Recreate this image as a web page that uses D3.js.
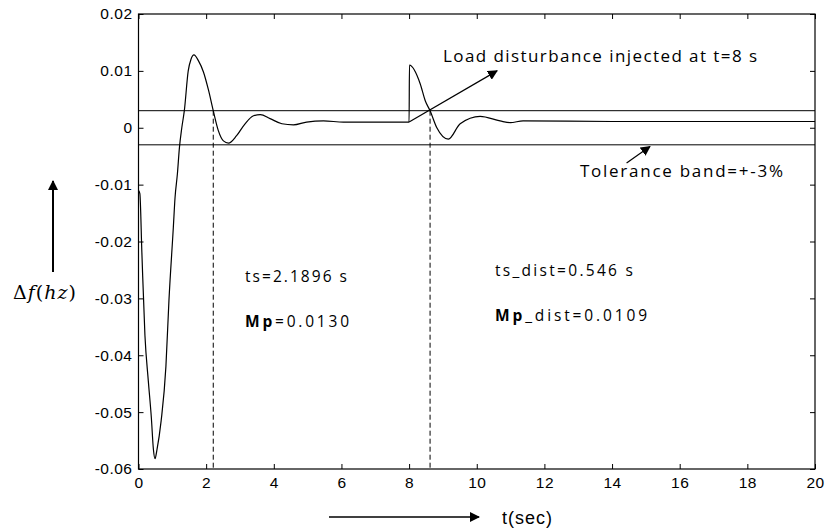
<!DOCTYPE html>
<html>
<head>
<meta charset="utf-8">
<script src="https://cdn.jsdelivr.net/npm/d3@7"></script>
<style>
  body { margin: 0; background: #fff; }
  svg { display: block; }
  .tick text { font-family: "Liberation Sans", Arial, sans-serif; font-size: 15.5px; letter-spacing: 0.5px; fill: #000; }
  .note { font-family: "Open Sans", "Noto Sans", sans-serif; font-size: 17px; fill: #000; }
  .small { font-size: 15.5px; }
</style>
</head>
<body>
<script>
// frequency deviation response (t in sec, df in Hz)
var timeSec = [0, 0.04, 0.1, 0.19, 0.29, 0.38, 0.44, 0.49, 0.54, 0.67, 0.81, 0.9, 1.03, 1.08, 1.15,
    1.21, 1.28, 1.355, 1.47, 1.55, 1.64, 1.77, 1.92, 2.07, 2.21, 2.36, 2.51, 2.66, 2.9, 3.15, 3.4, 3.6,
    3.89, 4.24, 4.58, 4.97, 5.47, 6.06, 7.0, 8.0, 8.01, 8.33, 8.48, 8.62, 8.82, 9.16, 9.51, 10.1, 10.69,
    10.99, 11.37, 14, 20];
var deltaF = [-0.011, -0.0116, -0.022, -0.0365, -0.0445, -0.051, -0.0565, -0.0582, -0.0568, -0.0515, -0.042,
    -0.0304, -0.0175, -0.0123, -0.0081, -0.0035, 0, 0.003, 0.01, 0.012, 0.0128, 0.0118, 0.0098, 0.0066,
    0.003, -0.0005, -0.0023, -0.0027, -0.0014, 0.0007, 0.0021, 0.0023, 0.0016, 0.0007, 0.0005, 0.001,
    0.0012, 0.001, 0.001, 0.001, 0.011, 0.0077, 0.0047, 0.003, 0, -0.002, 0.0007, 0.002, 0.0012,
    0.0009, 0.0012, 0.0011, 0.0011];

var tolerance = [0.003, -0.003];
var settleTimes = [2.21, 8.62];
var xTicks = [0, 2, 4, 6, 8, 10, 12, 14, 16, 18, 20];
var yTicks = [0.02, 0.01, 0, -0.01, -0.02, -0.03, -0.04, -0.05, -0.06];

var width = 827, height = 529;
var plotL = 138.5, plotR = 815, plotT = 14, plotB = 469;

var svg = d3.select("body").append("svg")
    .attr("width", width)
    .attr("height", height);

var defs = svg.append("defs");
defs.append("marker")
    .attr("id", "head")
    .attr("viewBox", "0 0 10 10")
    .attr("refX", 9).attr("refY", 5)
    .attr("markerWidth", 10).attr("markerHeight", 10)
    .attr("markerUnits", "userSpaceOnUse")
    .attr("orient", "auto")
    .append("path")
    .attr("d", "M0,0 L10,5 L0,10 z")
    .attr("fill", "#000");

var x = d3.scaleLinear().domain([0, 20]).range([plotL, plotR]);
var y = d3.scaleLinear().domain([-0.06, 0.02]).range([plotB, plotT]);

var fmtY = function(d){ return d === 0 ? "0" : d3.format(".2f")(d).replace("−", "-"); };

// axes, ticks pointing inward on all four sides
svg.append("g")
    .attr("transform", "translate(0," + plotB + ")")
    .call(d3.axisBottom(x).tickValues(xTicks).tickSizeInner(-5).tickSizeOuter(0).tickPadding(8))
    .call(function(g){ g.select(".domain").remove(); });

svg.append("g")
    .attr("transform", "translate(" + plotL + ",0)")
    .call(d3.axisLeft(y).tickValues(yTicks).tickFormat(fmtY).tickSizeInner(-5).tickSizeOuter(0).tickPadding(6))
    .call(function(g){ g.select(".domain").remove(); });

svg.append("g")
    .attr("transform", "translate(0," + plotT + ")")
    .call(d3.axisTop(x).tickValues(xTicks).tickFormat("").tickSizeInner(-5).tickSizeOuter(0))
    .call(function(g){ g.select(".domain").remove(); });

svg.append("g")
    .attr("transform", "translate(" + plotR + ",0)")
    .call(d3.axisRight(y).tickValues(yTicks).tickFormat("").tickSizeInner(-5).tickSizeOuter(0))
    .call(function(g){ g.select(".domain").remove(); });

svg.selectAll(".tick line").attr("stroke", "#000");

svg.append("rect")
    .attr("x", plotL).attr("y", plotT)
    .attr("width", plotR - plotL).attr("height", plotB - plotT)
    .attr("fill", "none").attr("stroke", "#000").attr("stroke-width", 1.2);

// tolerance band
svg.selectAll(".band")
    .data(tolerance)
    .enter()
    .append("line")
    .attr("class", "band")
    .attr("x1", plotL).attr("x2", plotR)
    .attr("y1", d => y(d)).attr("y2", d => y(d))
    .attr("stroke", "#000").attr("stroke-width", 1);

// settling time markers
svg.selectAll(".settle")
    .data(settleTimes)
    .enter()
    .append("line")
    .attr("class", "settle")
    .attr("x1", d => x(d)).attr("x2", d => x(d))
    .attr("y1", y(0.003)).attr("y2", plotB)
    .attr("stroke", "#000").attr("stroke-width", 1)
    .attr("stroke-dasharray", "5,3");

// response curve
var pts = timeSec.map((t, i) => [t, deltaF[i]]);
var line = d3.line()
    .x(d => x(d[0]))
    .y(d => y(d[1]))
    .curve(d3.curveMonotoneX);

svg.append("path")
    .datum(pts)
    .attr("d", line)
    .attr("fill", "none")
    .attr("stroke", "#000")
    .attr("stroke-width", 1.2);

// annotation arrows
svg.append("line")
    .attr("x1", x(8)).attr("y1", y(0.001))
    .attr("x2", x(10.6)).attr("y2", y(0.01))
    .attr("stroke", "#000").attr("stroke-width", 1.2)
    .attr("marker-end", "url(#head)");

svg.append("line")
    .attr("x1", x(14.43)).attr("y1", y(-0.0062))
    .attr("x2", x(15.12)).attr("y2", y(-0.0033))
    .attr("stroke", "#000").attr("stroke-width", 1.2)
    .attr("marker-end", "url(#head)");

// annotation texts
svg.append("text").attr("class", "note")
    .attr("x", 443).attr("y", 62)
    .attr("textLength", 314).attr("lengthAdjust", "spacing")
    .text("Load disturbance injected at t=8 s");

svg.append("text").attr("class", "note")
    .attr("x", 580).attr("y", 177)
    .attr("textLength", 203).attr("lengthAdjust", "spacing")
    .text("Tolerance band=+-3%");

svg.append("text").attr("class", "note small")
    .attr("x", 245).attr("y", 282)
    .attr("textLength", 102).attr("lengthAdjust", "spacing")
    .text("ts=2.1896 s");

var mp1 = svg.append("text").attr("class", "note small")
    .attr("x", 245).attr("y", 327)
    .attr("textLength", 104).attr("lengthAdjust", "spacing");
mp1.append("tspan").style("font-weight", "bold").text("Mp");
mp1.append("tspan").text("=0.0130");

svg.append("text").attr("class", "note small")
    .attr("x", 495).attr("y", 276)
    .attr("textLength", 138).attr("lengthAdjust", "spacing")
    .text("ts_dist=0.546 s");

var mp2 = svg.append("text").attr("class", "note small")
    .attr("x", 495).attr("y", 321)
    .attr("textLength", 152).attr("lengthAdjust", "spacing");
mp2.append("tspan").style("font-weight", "bold").text("Mp");
mp2.append("tspan").text("_dist=0.0109");

// axis labels with arrows
svg.append("line")
    .attr("x1", 53).attr("y1", 272)
    .attr("x2", 53).attr("y2", 181)
    .attr("stroke", "#000").attr("stroke-width", 2)
    .attr("marker-end", "url(#head)");

var yl = svg.append("text")
    .attr("x", 13).attr("y", 299)
    .style("font-family", "'DejaVu Serif', 'Liberation Serif', serif")
    .style("font-size", "19px")
    .style("letter-spacing", "1px");
yl.append("tspan").text("Δ");
yl.append("tspan").style("font-style", "italic").text("f");
yl.append("tspan").text("(");
yl.append("tspan").style("font-style", "italic").text("hz");
yl.append("tspan").text(")");

svg.append("line")
    .attr("x1", 329).attr("y1", 517)
    .attr("x2", 479).attr("y2", 517)
    .attr("stroke", "#000").attr("stroke-width", 1.5)
    .attr("marker-end", "url(#head)");

svg.append("text")
    .attr("x", 502).attr("y", 524)
    .style("font-family", "'Liberation Sans', Arial, sans-serif")
    .style("font-size", "18px")
    .style("letter-spacing", "1px")
    .text("t(sec)");
</script>
</body>
</html>
